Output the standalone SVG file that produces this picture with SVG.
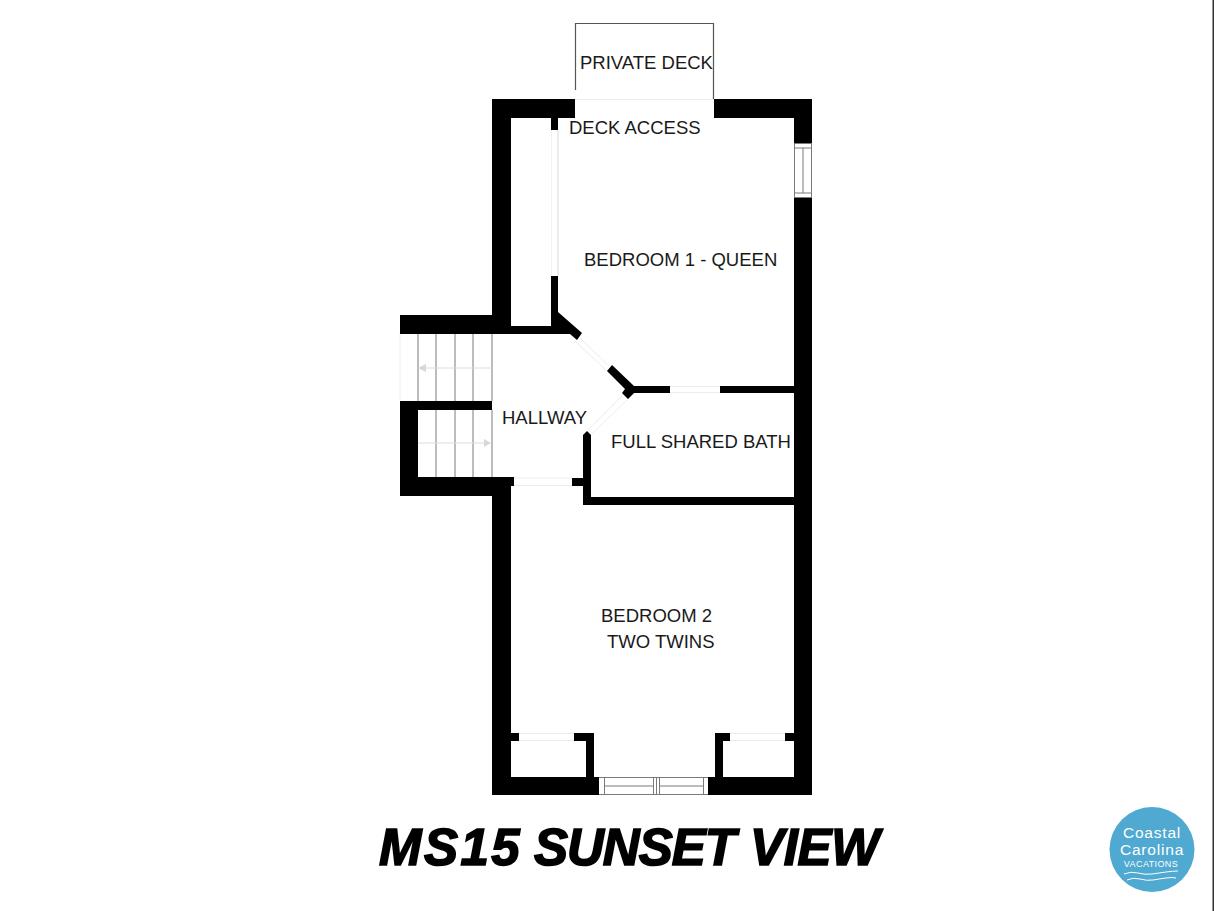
<svg xmlns="http://www.w3.org/2000/svg" width="1214" height="911" viewBox="0 0 1214 911">
<style>
.w{fill:#000}
.t{font-family:"Liberation Sans",Arial,sans-serif;font-size:18.500px;fill:#1a1a1a}
.g{fill:none;stroke:#7a7a7a;stroke-width:1}
.l{fill:none;stroke:#ececec;stroke-width:1}
.d{fill:none;stroke:#555;stroke-width:1.2}
.a{fill:none;stroke:#dcdcdc;stroke-width:1}
.h{fill:#d8d8d8}
.c{font-family:"Liberation Sans",Arial,sans-serif;fill:#fff;text-anchor:middle}
</style>
<rect width="1214" height="911" fill="#fff"/>
<rect x="1212.5" y="0" width="1.5" height="911" fill="#333"/>
<g id="walls">
<path class="w" d="M492 99H575V118H511V326H551V276H558V312L582 333L577 340L570 334H400V315H492Z"/>
<rect class="w" x="551" y="118" width="7" height="12"/>
<path d="M551.500 130V276" fill="none" stroke="#f2f2f2"/>
<path d="M558 130V276" fill="none" stroke="#d8d8d8"/>
<path class="w" d="M714 99H812V143H794V118H714Z"/>
<rect class="w" x="794" y="198" width="18" height="597"/>
<path class="w" d="M400 401H492V410H418V477H514V486H511V777H599V795H492V496H400Z"/>
<path class="w" d="M607 371L612 365L634 386H670V393H634L628 399L622 393L625 389Z"/>
<rect class="w" x="720" y="386" width="74" height="7"/>
<path class="w" d="M583 435L587 431L591 435V497H794V505H583V486H572V478H583Z"/>
<path class="w" d="M511 733H519V741H511ZM574 733H594V777H586V741H574Z"/>
<path class="w" d="M715 733H730V741H723V777H715ZM785 733H794V741H785Z"/>
<rect class="w" x="708" y="777" width="104" height="18"/>
</g>
<g id="stairs">
<path class="g" d="M418 334V401M436 334V401M455 334V401M473 334V401M492 334V401M436 410V477M455 410V477M473 410V477M492 410V477"/>
<path class="l" d="M400 334V401"/>
<path class="a" d="M426 368H492M418 443H484"/>
<path class="h" d="M418 368L426 364V372ZM491 443L484 439V447Z"/>
</g>
<g id="deck">
<path class="d" d="M575.500 90V23.500H713.500V99"/>
<path class="l" d="M575 99.500H714"/>
</g>
<g id="openings">
<path class="l" d="M580 338L609 366M575 341L606 370M588 430L622 396M592 434L627 400M670 386.500H720M670 392.500H720M514 478H572M514 485.500H572M519 733.500H574M519 740.500H574M730 733.500H785M730 740.500H785"/>
</g>
<g id="window-east">
<path class="g" d="M794 143.500H812M794 148H812M794 193H812M794 197.500H812M794.500 143V198M811.500 143V198M803 148V193"/>
</g>
<g id="door-south">
<path class="g" d="M599 777.500H708M599 794.500H708M604.500 777V795M653.500 777V795M656.500 777V795M659.500 777V795M703.500 777V795M605 786H653M660 786H703"/>
</g>
<g id="labels">
<text class="t" x="580" y="69">PRIVATE DECK</text>
<text class="t" x="569" y="134">DECK ACCESS</text>
<text class="t" x="584" y="266">BEDROOM 1 - QUEEN</text>
<text class="t" x="502" y="424">HALLWAY</text>
<text class="t" x="611" y="448">FULL SHARED BATH</text>
<text class="t" x="601" y="622">BEDROOM 2</text>
<text class="t" x="607" y="648">TWO TWINS</text>
</g>
<text id="title" y="865" font-family="Liberation Sans,Arial,sans-serif" font-size="51" font-weight="700" font-style="italic" fill="#000" stroke="#000" stroke-width="1.600"><tspan x="379" letter-spacing="2.500">MS15</tspan> <tspan x="534" letter-spacing="-1">SUNSET</tspan> <tspan x="750" letter-spacing="-0.300">VIEW</tspan></text>
<g id="logo">
<circle cx="1152" cy="849.500" r="42.500" fill="#4fa9d0"/>
<text class="c" x="1152" y="838" font-size="15.500" letter-spacing="0.800">Coastal</text>
<text class="c" x="1152" y="855" font-size="15.500" letter-spacing="0.800">Carolina</text>
<text class="c" x="1151" y="867" font-size="9" letter-spacing="0.400">VACATIONS</text>
<path d="M1124 874Q1131 871 1138 873T1152 874T1166 872T1178 871M1127 880Q1133 877 1140 879T1153 880T1166 878T1176 878" fill="none" stroke="#fff" stroke-width="1"/>
</g>
</svg>
